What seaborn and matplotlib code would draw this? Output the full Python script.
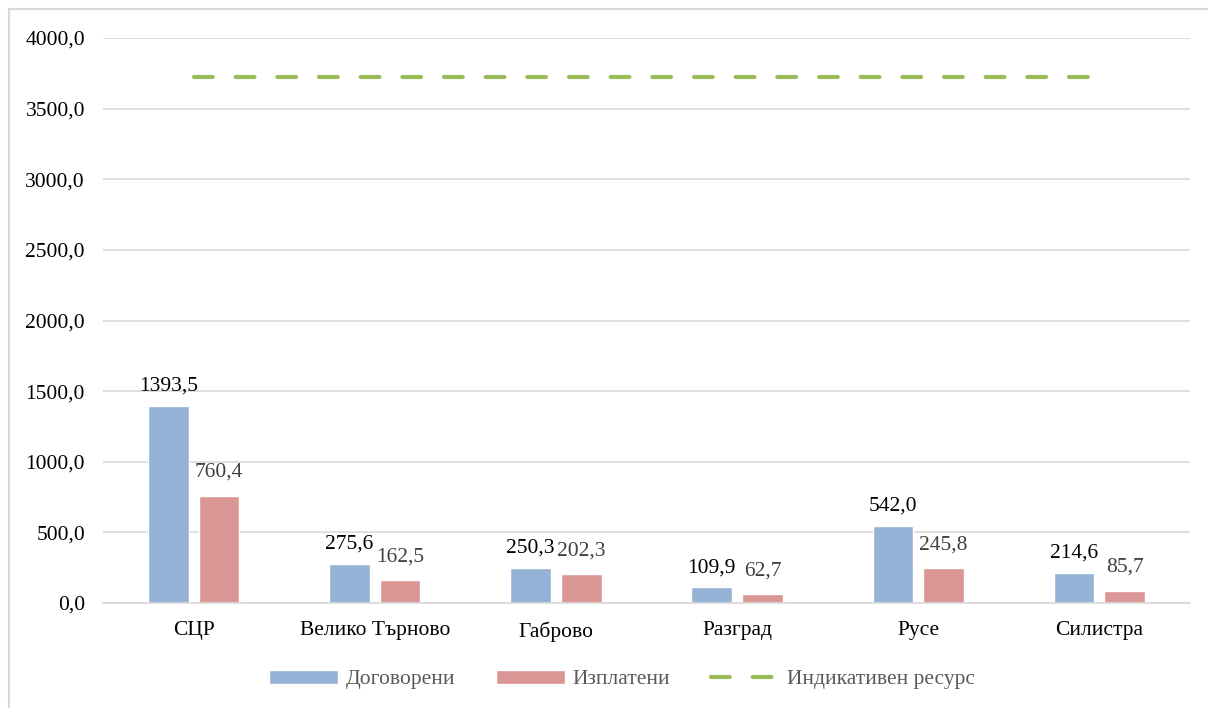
import matplotlib
matplotlib.use("Agg")
import matplotlib.pyplot as plt
import matplotlib.patches as mpatches
import pandas as pd
import seaborn as sns

regions = ["СЦР", "Велико Търново", "Габрово", "Разград", "Русе", "Силистра"]
contracted = [1393.5, 275.6, 250.3, 109.9, 542.0, 214.6]
paid = [760.4, 162.5, 202.3, 62.7, 245.8, 85.7]
resource = [3724.0] * len(regions)
yticks = [0, 500, 1000, 1500, 2000, 2500, 3000, 3500, 4000]

blue = "#95B3D7"
red = "#D99694"
green = "#9BBB59"
FS = 15.5

def fmt(v):
    return f"{v:.1f}".replace(".", ",")

df = pd.DataFrame({
    "region": regions * 2,
    "value": contracted + paid,
    "series": ["Договорени"] * len(regions) + ["Изплатени"] * len(regions),
})

sns.set_style("white")
plt.rcParams["font.family"] = ["Liberation Serif", "DejaVu Serif"]

fig = plt.figure(figsize=(12.08, 7.08), dpi=100)
ax = fig.add_axes([0.0853, 0.1483, 0.8997, 0.798])

sns.barplot(data=df, x="region", y="value", hue="series",
            palette=[blue, red], width=0.56, gap=0.2, ax=ax,
            saturation=1, legend=True)
sns.lineplot(x=list(range(len(regions))), y=resource, ax=ax, color=green,
             linewidth=3, dashes=False, label="Индикативен ресурс")
line = ax.lines[-1]
line.set_dashes([4.5, 5.5])
line.set_dash_capstyle("round")

# data labels (blue black, red dark grey, like the excel original)
for cont, color, dy in zip(ax.containers, ["#000000", "#404040"], [7.5, 10]):
    for bar in cont:
        h = bar.get_height()
        ax.annotate(fmt(h), (bar.get_x() + bar.get_width() / 2, h),
                    xytext=(0, dy), textcoords="offset points",
                    ha="center", va="bottom", fontsize=FS, color=color)

ax.set_ylim(0, 4000)
ax.set_xlim(-0.5, len(regions) - 0.5)
ax.set_yticks(yticks)
ax.set_yticklabels([fmt(t) for t in yticks])
ax.yaxis.grid(True, color="#D9D9D9", linewidth=1.2)
ax.set_axisbelow(True)
for s in ["top", "right", "left"]:
    ax.spines[s].set_visible(False)
ax.spines["bottom"].set_color("#D9D9D9")
ax.spines["bottom"].set_linewidth(1.2)
ax.tick_params(axis="both", length=0, labelsize=FS, labelcolor="#000000")
ax.tick_params(axis="y", pad=13)
ax.tick_params(axis="x", pad=13)
ax.set_xlabel("")
ax.set_ylabel("")

handles, labels = ax.get_legend_handles_labels()
ax.get_legend().remove()
leg = fig.legend(handles, labels, loc="center", bbox_to_anchor=(0.515, 0.04),
                 ncol=3, frameon=False, fontsize=FS, handlelength=3.2,
                 handleheight=0.6, handletextpad=0.35, columnspacing=1.9)
for t in leg.get_texts():
    t.set_color("#595959")

# outer chart frame
fig.patches.append(mpatches.Rectangle((0.0075, -0.1), 1.2, 1.087,
                                      transform=fig.transFigure, fill=False,
                                      edgecolor="#D9D9D9", linewidth=1.5))

fig.savefig("out.png", dpi=100)
